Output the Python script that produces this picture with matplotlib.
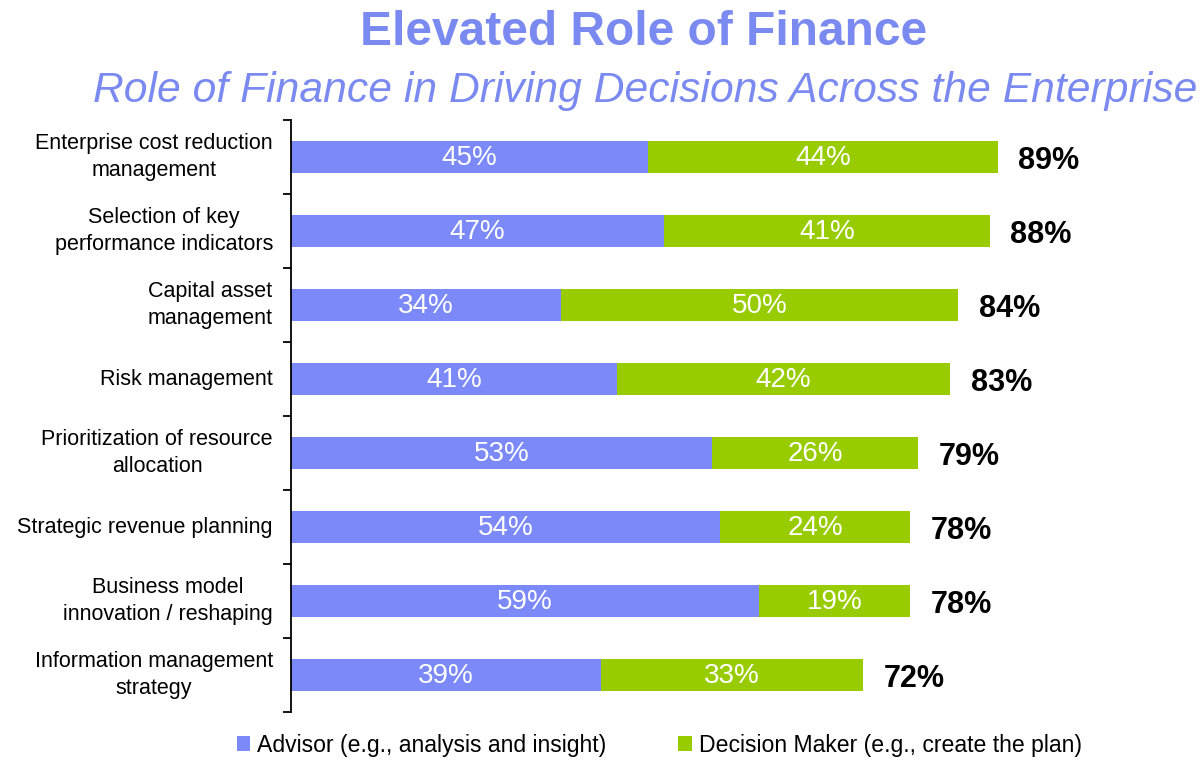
import numpy as np
import matplotlib
matplotlib.use('Agg')
import matplotlib.pyplot as plt
from matplotlib.ticker import FixedLocator

plt.rcParams['font.family'] = ['Liberation Sans', 'DejaVu Sans']

# data
categories = [
    'Enterprise cost reduction\nmanagement',
    'Selection of key\nperformance indicators',
    'Capital asset\nmanagement',
    'Risk management',
    'Prioritization of resource\nallocation',
    'Strategic revenue planning',
    'Business model\ninnovation / reshaping',
    'Information management\nstrategy',
]
advisor = [45, 47, 34, 41, 53, 54, 59, 39]
decision = [44, 41, 50, 42, 26, 24, 19, 33]
totals = [89, 88, 84, 83, 79, 78, 78, 72]

BLUE = '#7B8AF8'
GREEN = '#99CC00'
TITLE_COLOR = '#7B8AF0'

fig = plt.figure(figsize=(12.03, 7.62), dpi=100)
ax = fig.add_axes([0.2419, 0.0656, 0.660, 0.7769])

y = np.arange(len(categories))
bar_h = 0.42
ax.barh(y, advisor, height=bar_h, color=BLUE, label='Advisor (e.g., analysis and insight)')
ax.barh(y, decision, left=advisor, height=bar_h, color=GREEN,
        label='Decision Maker (e.g., create the plan)')

# segment labels
for i in range(len(categories)):
    ax.text(advisor[i] / 2, y[i] + 0.02, f'{advisor[i]}%', ha='center', va='center',
            color='white', fontsize=20)
    ax.text(advisor[i] + decision[i] / 2, y[i] + 0.02, f'{decision[i]}%', ha='center',
            va='center', color='white', fontsize=20)
    ax.text(totals[i] + 2.6, y[i] + 0.06, f'{totals[i]}%', ha='left', va='center',
            color='black', fontsize=22, fontweight='bold')

ax.set_xlim(0, 100)
ax.set_ylim(len(categories) - 0.5, -0.5)
ax.set_xticks([])
ax.set_yticks(y)
ax.set_yticklabels(categories, fontsize=15.5)
for lbl in ax.get_yticklabels():
    lbl.set_multialignment('center')
    lbl.set_linespacing(1.4)
    lbl.set_verticalalignment('center')
ax.yaxis.set_minor_locator(FixedLocator(np.arange(-0.5, len(categories), 1.0)))
ax.tick_params(axis='y', which='major', length=0, pad=13)
ax.tick_params(axis='y', which='minor', length=6, width=1.3, color='black')

for s in ['top', 'right', 'bottom']:
    ax.spines[s].set_visible(False)
ax.spines['left'].set_linewidth(1.3)

fig.text(0.535, 0.958, 'Elevated Role of Finance', ha='center', va='center',
         fontsize=34.5, fontweight='bold', color=TITLE_COLOR)
fig.text(0.536, 0.880, 'Role of Finance in Driving Decisions Across the Enterprise',
         ha='center', va='center', fontsize=30.7, style='italic', color=TITLE_COLOR)

fig.legend(loc='center', bbox_to_anchor=(0.548, 0.022), ncol=2, frameon=False,
           fontsize=16.6, handlelength=0.6, handleheight=0.6, handletextpad=0.3,
           columnspacing=3.1, borderpad=0)

fig.savefig('out.png', dpi=100)
